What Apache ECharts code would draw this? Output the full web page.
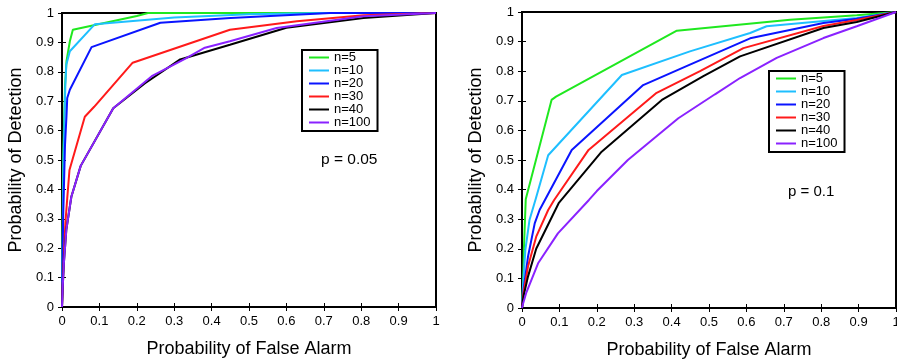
<!DOCTYPE html>
<html>
<head>
<meta charset="utf-8">
<script src="https://cdn.jsdelivr.net/npm/echarts@6/dist/echarts.min.js"></script>
<style>
html,body{margin:0;padding:0;background:#fff;}
#chart{width:897px;height:360px;}
</style>
</head>
<body>
<div id="chart"></div>
<script>
// ---- data: [probability of false alarm, probability of detection] ----
const seriesNames = ['n=5', 'n=10', 'n=20', 'n=30', 'n=40', 'n=100'];
const tickValues = [0, 0.1, 0.2, 0.3, 0.4, 0.5, 0.6, 0.7, 0.8, 0.9, 1];

// p = 0.05 (left panel)
const p05_n5 = [[0,0],[0.003,0.5],[0.008,0.75],[0.012,0.836],[0.021,0.904],[0.029,0.943],[0.2,0.99],[0.23,1],[1,1]];
const p05_n10 = [[0,0],[0.004,0.5],[0.009,0.756],[0.0115,0.824],[0.021,0.87],[0.088,0.962],[0.3,0.985],[0.5,0.996],[0.7,1],[1,1]];
const p05_n20 = [[0,0],[0.003,0.3],[0.008,0.55],[0.012,0.65],[0.014,0.711],[0.021,0.739],[0.079,0.884],[0.263,0.967],[0.45,0.983],[0.717,1],[1,1]];
const p05_n30 = [[0,0],[0.002,0.08],[0.005,0.171],[0.009,0.285],[0.014,0.37],[0.02,0.466],[0.061,0.647],[0.086,0.681],[0.189,0.831],[0.449,0.943],[0.628,0.972],[0.806,0.992],[1,1]];
const p05_n40 = [[0,0],[0.002,0.07],[0.005,0.149],[0.0115,0.262],[0.025,0.375],[0.05,0.48],[0.137,0.676],[0.222,0.761],[0.316,0.842],[0.449,0.892],[0.6,0.95],[0.806,0.983],[1,1]];
const p05_n100 = [[0,0],[0.002,0.07],[0.005,0.149],[0.0115,0.262],[0.025,0.375],[0.05,0.48],[0.137,0.676],[0.24,0.785],[0.33,0.845],[0.382,0.882],[0.449,0.904],[0.574,0.949],[0.806,0.989],[1,1]];

// p = 0.1 (right panel)
const p10_n5 = [[0,0],[0.003,0.084],[0.005,0.196],[0.01,0.367],[0.079,0.703],[0.091,0.714],[0.414,0.937],[0.717,0.974],[0.895,0.989],[1,1]];
const p10_n10 = [[0,0],[0.003,0.08],[0.009,0.196],[0.02,0.297],[0.037,0.37],[0.07,0.516],[0.267,0.787],[0.449,0.867],[0.61,0.929],[0.654,0.952],[0.895,0.98],[1,1]];
const p10_n20 = [[0,0],[0.004,0.06],[0.016,0.173],[0.034,0.286],[0.047,0.331],[0.133,0.534],[0.324,0.753],[0.449,0.822],[0.61,0.911],[0.806,0.963],[0.895,0.977],[1,1]];
const p10_n30 = [[0,0],[0.004,0.05],[0.016,0.14],[0.038,0.241],[0.07,0.331],[0.086,0.365],[0.178,0.534],[0.36,0.727],[0.476,0.8],[0.592,0.878],[0.806,0.953],[0.895,0.973],[1,1]];
const p10_n40 = [[0,0],[0.004,0.04],[0.016,0.106],[0.038,0.2],[0.098,0.354],[0.213,0.528],[0.374,0.703],[0.485,0.783],[0.583,0.85],[0.806,0.946],[0.895,0.966],[1,1]];
const p10_n100 = [[0,0],[0.003,0.015],[0.011,0.05],[0.043,0.151],[0.096,0.252],[0.179,0.365],[0.2,0.395],[0.283,0.5],[0.418,0.641],[0.516,0.722],[0.583,0.777],[0.681,0.845],[0.806,0.912],[0.895,0.952],[1,1]];

const leftData = [p05_n5, p05_n10, p05_n20, p05_n30, p05_n40, p05_n100];
const rightData = [p10_n5, p10_n10, p10_n20, p10_n30, p10_n40, p10_n100];
const colors = ['#1fe81f', '#1ebfff', '#0a14ff', '#ff1a1a', '#000000', '#8a22ff'];

const FONT = 'Liberation Sans, Arial, Helvetica, sans-serif';
const fmt = v => String(+(+v).toFixed(1));

function xAxes(gridIndex) {
  return [
    {
      type: 'value', gridIndex, min: 0, max: 1, interval: 0.1, position: 'bottom',
      name: 'Probability of False Alarm', nameLocation: 'middle', nameGap: 33,
      nameTextStyle: { fontSize: 18, fontFamily: FONT, color: '#000' },
      axisLine: { show: false },
      axisTick: { show: true, inside: true, length: 4, lineStyle: { color: '#000', width: 1 } },
      axisLabel: { fontSize: 13, fontFamily: FONT, color: '#000', margin: 8, formatter: fmt, showMinLabel: true, showMaxLabel: true },
      splitLine: { show: false }
    },
    {
      type: 'value', gridIndex, min: 0, max: 1, interval: 0.1, position: 'top',
      axisLine: { show: false },
      axisTick: { show: true, inside: true, length: 4, lineStyle: { color: '#000', width: 1 } },
      axisLabel: { show: false },
      splitLine: { show: false }
    }
  ];
}
function yAxes(gridIndex) {
  return [
    {
      type: 'value', gridIndex, min: 0, max: 1, interval: 0.1, position: 'left',
      name: 'Probability of Detection', nameLocation: 'middle', nameGap: 37,
      nameTextStyle: { fontSize: 18, fontFamily: FONT, color: '#000' },
      axisLine: { show: false },
      axisTick: { show: true, inside: true, length: 4, lineStyle: { color: '#000', width: 1 } },
      axisLabel: { fontSize: 13, fontFamily: FONT, color: '#000', margin: 8, formatter: fmt, showMinLabel: true, showMaxLabel: true },
      splitLine: { show: false }
    },
    {
      type: 'value', gridIndex, min: 0, max: 1, interval: 0.1, position: 'right',
      axisLine: { show: false },
      axisTick: { show: true, inside: true, length: 4, lineStyle: { color: '#000', width: 1 } },
      axisLabel: { show: false },
      splitLine: { show: false }
    }
  ];
}

function makeSeries(dataSets, axisIndex) {
  return dataSets.map((d, i) => ({
    type: 'line', name: seriesNames[i], data: d,
    xAxisIndex: axisIndex, yAxisIndex: axisIndex,
    symbol: 'none', smooth: false, silent: true,
    lineStyle: { color: colors[i], width: 2 },
    itemStyle: { color: colors[i] },
    z: 3 + i
  }));
}

function legend(left, top) {
  return {
    orient: 'vertical', left, top,
    data: seriesNames, icon: 'rect', itemWidth: 20, itemHeight: 2, itemGap: 0,
    padding: [1, 7, 2, 7],
    borderColor: '#000', borderWidth: 2, backgroundColor: '#fff',
    textStyle: { fontSize: 13, fontFamily: FONT, color: '#000', lineHeight: 12.67 },
    selectedMode: false
  };
}

const chart = echarts.init(document.getElementById('chart'), null, { renderer: 'canvas' });
chart.setOption({
  animation: false,
  backgroundColor: '#fff',
  color: colors,
  grid: [
    { left: 62, top: 13, width: 374, height: 294, show: true, borderColor: '#000', borderWidth: 2, backgroundColor: 'transparent', containLabel: false, outerBoundsMode: 'none' },
    { left: 522, top: 12, width: 374, height: 296, show: true, borderColor: '#000', borderWidth: 2, backgroundColor: 'transparent', containLabel: false, outerBoundsMode: 'none' }
  ],
  xAxis: [...xAxes(0), ...xAxes(1)],
  yAxis: [...yAxes(0), ...yAxes(1)],
  legend: [legend(302, 50), legend(769, 71)],
  series: [...makeSeries(leftData, 0), ...makeSeries(rightData, 2)],
  graphic: [
    { type: 'text', x: 321, y: 160, style: { text: 'p = 0.05', fontSize: 15.5, fontFamily: FONT, fill: '#000', verticalAlign: 'middle' } },
    { type: 'text', x: 788, y: 192, style: { text: 'p = 0.1', fontSize: 15, fontFamily: FONT, fill: '#000', verticalAlign: 'middle' } }
  ]
});
</script>
</body>
</html>
